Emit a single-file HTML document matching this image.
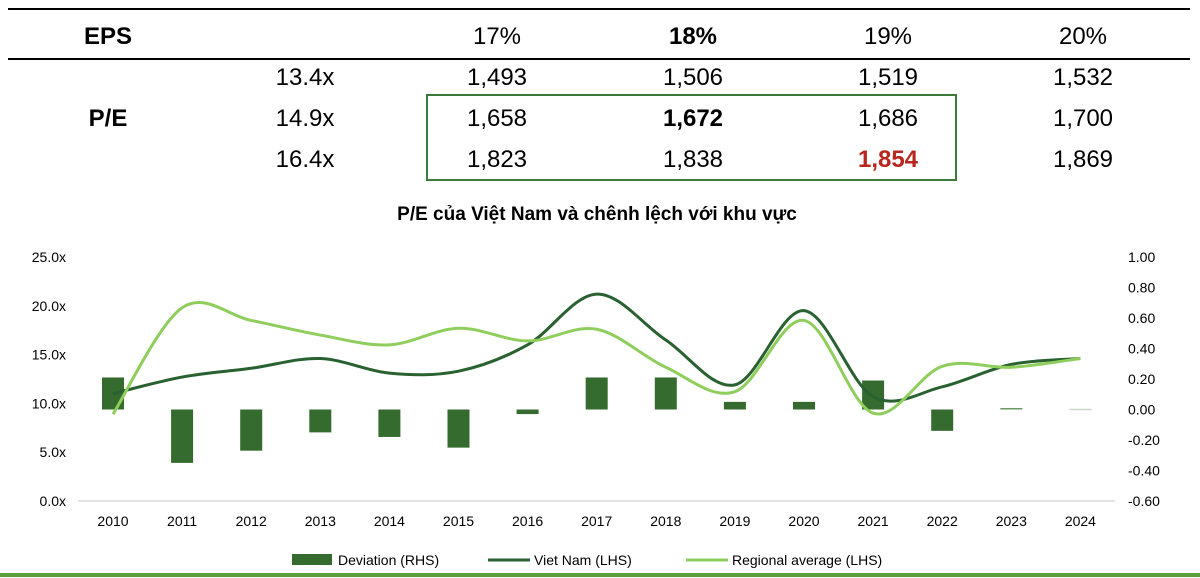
<!DOCTYPE html>
<html><head><meta charset="utf-8">
<style>
body{margin:0;width:1200px;height:578px;background:#fff;overflow:hidden;font-family:"Liberation Sans",Arial,sans-serif;position:relative}
.t{position:absolute;font-size:24px;color:#000;transform:translate(-50%,-50%);white-space:nowrap}
.b{font-weight:bold}
</style></head><body>
<div style="position:absolute;left:8px;top:8px;width:1182px;height:2px;background:#000"></div>
<div style="position:absolute;left:8px;top:58px;width:1182px;height:2px;background:#000"></div>
<div style="position:absolute;left:426px;top:94px;width:531px;height:87px;border:2px solid #3d7a3a;box-sizing:border-box"></div>
<div class="t b" style="left:108px;top:37px">EPS</div>
<div class="t" style="left:497px;top:37px">17%</div>
<div class="t b" style="left:693px;top:37px">18%</div>
<div class="t" style="left:888px;top:37px">19%</div>
<div class="t" style="left:1083px;top:37px">20%</div>
<div class="t b" style="left:108px;top:119px">P/E</div>
<div class="t" style="left:305px;top:78px">13.4x</div>
<div class="t" style="left:305px;top:119px">14.9x</div>
<div class="t" style="left:305px;top:160px">16.4x</div>
<div class="t" style="left:497px;top:78px">1,493</div>
<div class="t" style="left:693px;top:78px">1,506</div>
<div class="t" style="left:888px;top:78px">1,519</div>
<div class="t" style="left:1083px;top:78px">1,532</div>
<div class="t" style="left:497px;top:119px">1,658</div>
<div class="t b" style="left:693px;top:119px">1,672</div>
<div class="t" style="left:888px;top:119px">1,686</div>
<div class="t" style="left:1083px;top:119px">1,700</div>
<div class="t" style="left:497px;top:160px">1,823</div>
<div class="t" style="left:693px;top:160px">1,838</div>
<div class="t b" style="left:888px;top:160px;color:#b8271f">1,854</div>
<div class="t" style="left:1083px;top:160px">1,869</div>
<div class="t b" style="left:597px;top:215px;font-size:19px">P/E của Việt Nam và chênh lệch với khu vực</div>
<svg id="ch" width="1200" height="578" style="position:absolute;left:0;top:0"></svg>
<div style="position:absolute;left:0;top:573px;width:1200px;height:4px;background:#5aa03a"></div>
<script>
const years=["2010","2011","2012","2013","2014","2015","2016","2017","2018","2019","2020","2021","2022","2023","2024"];
const vietnam=[11.0,12.7,13.6,14.6,13.1,13.3,16.0,21.2,16.5,11.9,19.5,10.7,11.7,14.0,14.6];
const regional=[8.9,19.8,18.5,17.0,16.0,17.7,16.4,17.6,13.7,11.2,18.5,9.0,13.8,13.7,14.6];
const deviation=[0.21,-0.35,-0.27,-0.15,-0.18,-0.25,-0.03,0.21,0.21,0.05,0.05,0.19,-0.14,0.01,0.005];
const leftTicks=["0.0x","5.0x","10.0x","15.0x","20.0x","25.0x"];
const leftVals=[0,5,10,15,20,25];
const rightVals=[-0.6,-0.4,-0.2,0,0.2,0.4,0.6,0.8,1.0];
const NS="http://www.w3.org/2000/svg";
const svg=document.getElementById('ch');
const X=i=>113+i*69.1;
const YL=v=>501-v*(244/25);
const YR=v=>501-(v+0.6)*(244/1.6);
function mk(t,a,txt){const e=document.createElementNS(NS,t);for(const k in a)e.setAttribute(k,a[k]);if(txt!==undefined)e.textContent=txt;svg.appendChild(e);return e;}
const ax=mk('line',{x1:78,x2:1115,y1:501,y2:501,stroke:'#d9d9d9','stroke-width':1.5});


leftVals.forEach((v,i)=>{const t=mk('text',{x:66,y:YL(v)+5,'text-anchor':'end','font-size':14,fill:'#000'},leftTicks[i]);

});
rightVals.forEach(v=>{const t=mk('text',{x:1128,y:YR(v)+5,'font-size':14,fill:'#000'},v.toFixed(2));

});
years.forEach((y,i)=>{const t=mk('text',{x:X(i),y:526,'text-anchor':'middle','font-size':14,fill:'#000'},y);

});
deviation.forEach((d,i)=>{const y0=YR(0),y1=YR(d);const h=Math.max(Math.abs(y1-y0),1.5);
const r=mk('rect',{x:X(i)-11,y:Math.min(y0,y1),width:22,height:h,fill:i==14?'#c9d9c4':(i==13?'#6a9a62':'#356b2e')});

});
function path(vals){const p=vals.map((v,i)=>[X(i),YL(v)]);let d='M'+p[0][0]+','+p[0][1];
for(let i=0;i<p.length-1;i++){const a=p[i-1]||p[i],b=p[i],c=p[i+1],e=p[i+2]||c;
d+=' C'+(b[0]+(c[0]-a[0])/6)+','+(b[1]+(c[1]-a[1])/6)+' '+(c[0]-(e[0]-b[0])/6)+','+(c[1]-(e[1]-b[1])/6)+' '+c[0]+','+c[1];}return d;}
const l1=mk('path',{d:path(vietnam),fill:'none',stroke:'#2a6131','stroke-width':3});


const l2=mk('path',{d:path(regional),fill:'none',stroke:'#8fce5c','stroke-width':3});


const lg=[['rect','Deviation (RHS)',292,'#356b2e'],['line','Viet Nam (LHS)',488,'#2a6131'],['line','Regional average (LHS)',686,'#8fce5c']];
lg.forEach(([k,txt,x,c])=>{let s;if(k=='rect')s=mk('rect',{x:x,y:554,width:40,height:11,fill:c});else s=mk('line',{x1:x,x2:x+42,y1:560,y2:560,stroke:c,'stroke-width':3});


const t=mk('text',{x:x+46,y:565,'font-size':14,fill:'#000'},txt);

});
</script>
</body></html>
